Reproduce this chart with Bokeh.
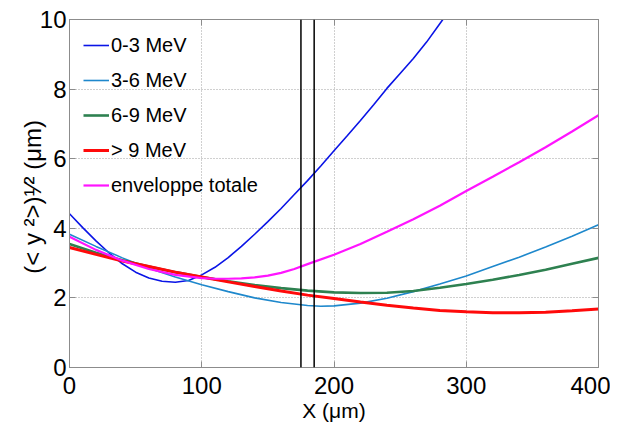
from bokeh.plotting import figure
from bokeh.models import Range1d, LinearAxis, Span, Legend, LegendItem, FixedTicker
from bokeh.embed import file_html
from bokeh.resources import INLINE

# ---- data ----
x_03 = [0, 10, 20, 30, 40, 50, 60, 70, 80, 90, 100, 110, 120, 130, 140, 150, 160, 170, 180, 190, 200, 210, 220, 230, 240, 250, 260, 270, 280, 290]
y_03 = [4.42, 4.02, 3.64, 3.29, 2.98, 2.74, 2.57, 2.48, 2.45, 2.50, 2.66, 2.88, 3.16, 3.48, 3.83, 4.19, 4.57, 4.97, 5.37, 5.79, 6.23, 6.66, 7.10, 7.55, 8.02, 8.45, 8.88, 9.35, 9.88, 10.4]

x_36 = [0, 20, 40, 60, 80, 100, 120, 140, 160, 180, 190, 200, 220, 240, 260, 280, 300, 320, 340, 360, 380, 400]
y_36 = [3.83, 3.48, 3.15, 2.85, 2.6, 2.38, 2.18, 2.0, 1.87, 1.78, 1.76, 1.77, 1.85, 1.99, 2.18, 2.4, 2.63, 2.9, 3.17, 3.46, 3.77, 4.1]

x_69 = [0, 20, 40, 60, 80, 100, 120, 140, 160, 180, 200, 220, 240, 260, 280, 300, 320, 340, 360, 380, 400]
y_69 = [3.55, 3.3, 3.08, 2.9, 2.74, 2.6, 2.48, 2.37, 2.28, 2.21, 2.16, 2.14, 2.15, 2.2, 2.29, 2.4, 2.52, 2.66, 2.81, 2.98, 3.15]

x_9 = [0, 20, 40, 60, 80, 100, 120, 140, 160, 180, 200, 220, 240, 260, 280, 300, 320, 340, 360, 380, 400]
y_9 = [3.45, 3.25, 3.06, 2.9, 2.74, 2.6, 2.46, 2.33, 2.2, 2.08, 1.98, 1.88, 1.79, 1.71, 1.64, 1.6, 1.57, 1.57, 1.59, 1.63, 1.68]

x_env = [0, 20, 40, 60, 80, 100, 110, 120, 130, 140, 150, 160, 170, 180, 200, 220, 240, 260, 280, 300, 320, 340, 360, 380, 400]
y_env = [3.76, 3.38, 3.07, 2.83, 2.66, 2.57, 2.55, 2.55, 2.56, 2.59, 2.64, 2.72, 2.83, 2.97, 3.24, 3.55, 3.9, 4.26, 4.65, 5.07, 5.48, 5.9, 6.33, 6.78, 7.25]

marks = [175, 185]

labels = ["0-3 MeV", "3-6 MeV", "6-9 MeV", "> 9 MeV", "enveloppe totale"]
colors = ["#0a14e6", "#1e88cc", "#2e8150", "#ff0a0a", "#ff14ff"]
widths = [1.6, 1.6, 2.6, 3.0, 2.2]

x_ticks = [0, 100, 200, 300, 400]
y_ticks = [0, 2, 4, 6, 8, 10]

FONT = "Liberation Sans"
AX = "#8c8c8c"

p = figure(width=610, height=425, output_backend="svg", toolbar_location=None,
           x_range=Range1d(0, 400), y_range=Range1d(0, 10),
           min_border_left=69, min_border_right=12, min_border_top=19, min_border_bottom=58)

p.outline_line_color = AX
p.outline_line_width = 1
p.background_fill_color = "white"

for ax in (p.xaxis[0], p.yaxis[0]):
    ax.axis_line_color = AX
    ax.major_tick_line_color = AX
    ax.major_tick_in = 6
    ax.major_tick_out = 0
    ax.minor_tick_line_color = None
    ax.major_label_text_font = FONT
    ax.major_label_text_font_size = "24px"
    ax.major_label_text_color = "black"
    ax.axis_label_text_font = FONT
    ax.axis_label_text_font_style = "normal"
    ax.axis_label_text_color = "black"

p.xaxis.ticker = FixedTicker(ticks=x_ticks)
p.yaxis.ticker = FixedTicker(ticks=y_ticks)
p.xaxis.major_label_standoff = 9
p.yaxis.major_label_standoff = 3
p.xaxis.axis_label = "X (μm)"
p.yaxis.axis_label = "(< y ²>)¹⁄²  (μm)"
p.xaxis.axis_label_text_font_size = "21px"
p.yaxis.axis_label_text_font_size = "24px"
p.xaxis.axis_label_standoff = 2
p.yaxis.axis_label_standoff = -9

top = LinearAxis(ticker=FixedTicker(ticks=x_ticks), major_label_text_font_size="1px",
                 major_label_text_color=None,
                 axis_line_color=AX, major_tick_line_color=AX, major_tick_in=6, major_tick_out=0,
                 minor_tick_line_color=None, major_label_standoff=0)
right = LinearAxis(ticker=FixedTicker(ticks=y_ticks), major_label_text_font_size="1px",
                   major_label_text_color=None,
                   axis_line_color=AX, major_tick_line_color=AX, major_tick_in=6, major_tick_out=0,
                   minor_tick_line_color=None, major_label_standoff=0)
p.add_layout(top, "above")
p.add_layout(right, "right")

p.grid.grid_line_color = "#a0a0a0"
p.grid.grid_line_dash = "1 2"
p.grid.grid_line_width = 1
p.xgrid.ticker = FixedTicker(ticks=x_ticks)
p.ygrid.ticker = FixedTicker(ticks=y_ticks)

for m in marks:
    p.add_layout(Span(location=m, dimension="height", line_color="black", line_width=1.5))

series = [(x_03, y_03), (x_36, y_36), (x_69, y_69), (x_9, y_9), (x_env, y_env)]
items = []
for (xs, ys), lab, c, w in zip(series, labels, colors, widths):
    r = p.line(xs, ys, line_color=c, line_width=w)
    items.append(LegendItem(label=lab, renderers=[r]))

legend = Legend(items=items, location="top_left")
legend.border_line_color = None
legend.background_fill_alpha = 0
legend.label_text_font = FONT
legend.label_text_font_size = "20px"
legend.label_text_color = "black"
legend.glyph_width = 26
legend.glyph_height = 24
legend.label_height = 24
legend.label_standoff = 2
legend.spacing = 11
legend.margin = 14
legend.padding = 14
p.add_layout(legend, "center")

open("out.html", "w").write(file_html(p, INLINE))
